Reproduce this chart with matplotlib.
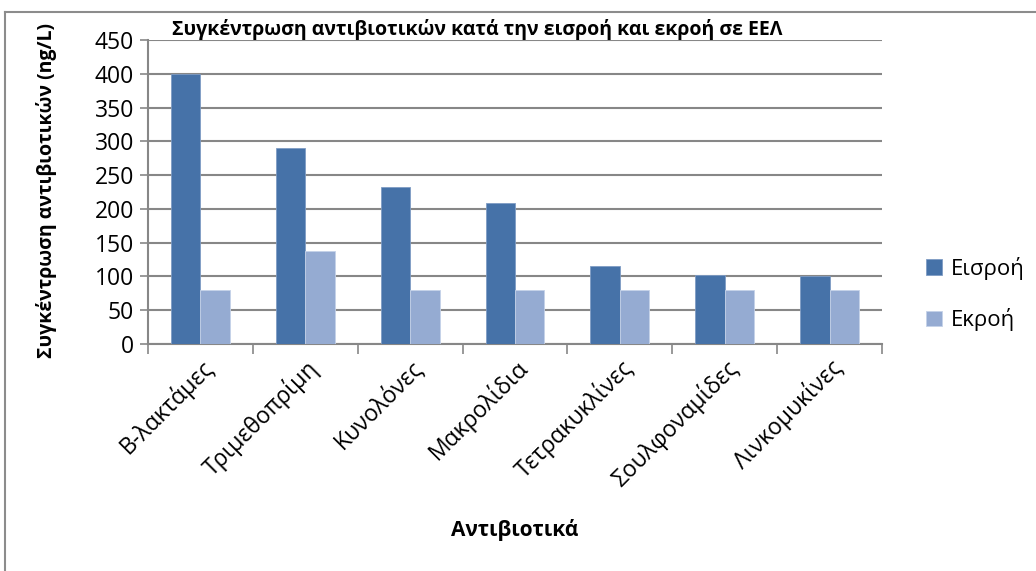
import matplotlib
matplotlib.use('Agg')
import matplotlib.pyplot as plt
import numpy as np
from matplotlib.lines import Line2D

plt.rcParams['font.family'] = ['Open Sans', 'DejaVu Sans']

## Data
categories = ['Β-λακτάμες', 'Τριμεθοπρίμη', 'Κυνολόνες', 'Μακρολίδια',
              'Τετρακυκλίνες', 'Σουλφοναμίδες', 'Λινκομυκίνες']
eisroi = [400, 290, 232, 208, 116, 102, 100]
ekroi = [80, 138, 80, 80, 80, 80, 80]
series_names = ['Εισροή', 'Εκροή']
yticks = [0, 50, 100, 150, 200, 250, 300, 350, 400, 450]

dark = '#4672A8'
light = '#95ABD2'
grid = '#878787'

## Figure
fig = plt.figure(figsize=(10.36, 5.71), dpi=100)
ax = fig.add_axes([148/1036, 1 - 344/571, (882-148)/1036, (344-40)/571])

x = np.arange(len(categories))
w = 0.28
ax.bar(x - w/2, eisroi, w, color=dark, edgecolor='#7f9cc4', linewidth=0.6,
       label=series_names[0], zorder=3)
ax.bar(x + w/2, ekroi, w, color=light, edgecolor='#c5d2e8', linewidth=0.6,
       label=series_names[1], zorder=3)

## y axis
ax.set_ylim(0, 450)
ax.set_yticks(yticks)
ax.yaxis.grid(True, color=grid, linewidth=1.5, zorder=0)
ax.tick_params(axis='y', length=6, width=1.2, color=grid, labelsize=16.5, pad=4)
fig.text(47/1036, 1 - 190/571, 'Συγκέντρωση αντιβιοτικών (ng/L)', rotation=90,
         ha='center', va='center', fontsize=14, fontweight='bold')

## x axis
ax.set_xlim(-0.5, len(categories) - 0.5)
ax.set_xticks(x)
ax.set_xticklabels(categories, rotation=45, ha='right', rotation_mode='anchor',
                   fontsize=16.5)
ax.set_xticks(np.arange(-0.5, len(categories)), minor=True)
ax.tick_params(axis='x', which='major', length=0, pad=8)
ax.tick_params(axis='x', which='minor', length=7, width=1.2, color=grid)
fig.text(515/1036, 1 - 530/571, 'Αντιβιοτικά', ha='center', va='center',
         fontsize=15, fontweight='bold')

for s in ['top', 'right']:
    ax.spines[s].set_visible(False)
for s in ['left', 'bottom']:
    ax.spines[s].set_color(grid)
    ax.spines[s].set_linewidth(1.5)

## title
fig.text(172/1036, 1 - 29/571, 'Συγκέντρωση αντιβιοτικών κατά την εισροή και εκροή σε ΕΕΛ',
         ha='left', va='center', fontsize=14, fontweight='bold')

## legend
fig.legend(loc='center left', bbox_to_anchor=(906/1036, 1 - 294/571), frameon=False,
           fontsize=16, handlelength=0.7, handleheight=0.7, handletextpad=0.4,
           labelspacing=1.3)

## outer border
fig.add_artist(Line2D([5/1036, 5/1036], [0, 1 - 12/571], color='#8c8c8c', lw=1.5))
fig.add_artist(Line2D([5/1036, 1], [1 - 12/571, 1 - 12/571], color='#8c8c8c', lw=1.5))

fig.savefig('out.png', dpi=100)
